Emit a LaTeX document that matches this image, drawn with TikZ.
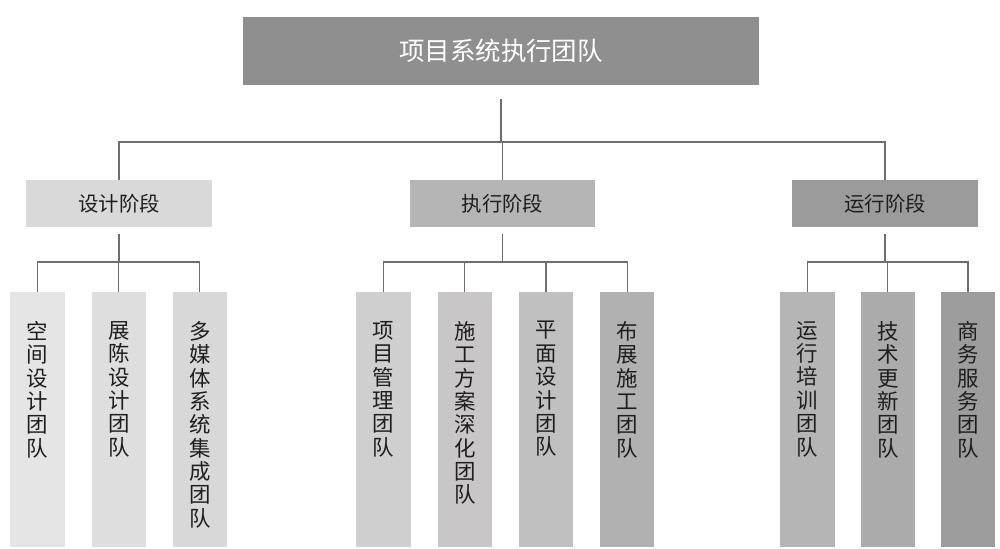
\documentclass[tikz,border=0pt]{standalone}
\usepackage{fontspec}
\setmainfont{Noto Sans CJK SC}
\usepackage{tikz}
\usetikzlibrary{positioning}

\definecolor{headgray}{HTML}{8F8F8F}
\definecolor{linegray}{HTML}{6E6E6E}
\definecolor{txtgray}{HTML}{1E1E1E}
\definecolor{phaseA}{HTML}{D9D9D9}
\definecolor{phaseB}{HTML}{B5B5B5}
\definecolor{phaseC}{HTML}{9B9B9B}
\definecolor{teamAa}{HTML}{E5E5E5}
\definecolor{teamAb}{HTML}{DEDEDE}
\definecolor{teamAc}{HTML}{D8D8D8}
\definecolor{teamBa}{HTML}{D0CFCF}
\definecolor{teamBb}{HTML}{C8C6C6}
\definecolor{teamBc}{HTML}{C0C0C0}
\definecolor{teamBd}{HTML}{B1B1B1}
\definecolor{teamCa}{HTML}{B6B5B6}
\definecolor{teamCb}{HTML}{ACABAC}
\definecolor{teamCc}{HTML}{9E9D9D}

\tikzset{
  head/.style={fill=headgray, text=white, minimum width=10.32cm, minimum height=1.36cm, inner sep=0pt, font=\fontsize{14.5}{16}\selectfont},
  phase/.style={minimum width=3.72cm, minimum height=0.94cm, inner sep=0pt, text=txtgray, font=\fontsize{11.6}{13}\selectfont},
  team/.style={inner sep=0pt, text=txtgray, font=\fontsize{12.2}{13.3}\selectfont},
  link/.style={draw=linegray, line width=0.6pt}
}
\newcommand{\teamtext}[1]{\parbox[c][5.1cm][t]{1.09cm}{\centering\vspace*{0.58cm}#1}}

\begin{document}
\begin{tikzpicture}[x=0.02cm, y=-0.02cm]
      \useasboundingbox (0,0) rectangle (1000,548);
      \node[head] (top) at (501,51) {项目系统执行团队};
      \node[phase, fill=phaseA] (design) at (119,203.5) {设计阶段};
      \node[phase, fill=phaseB] (build) at (502.5,203.5) {执行阶段};
      \node[phase, fill=phaseC] (run) at (885,203.5) {运行阶段};

      \node[team, fill=teamAa, anchor=north west] (space) at (10,292) {\teamtext{空\\间\\设\\计\\团\\队}};
      \node[team, fill=teamAb, right=0.52cm of space] (show) {\teamtext{展\\陈\\设\\计\\团\\队}};
      \node[team, fill=teamAc, right=0.52cm of show] (media) {\teamtext{多\\媒\\体\\系\\统\\集\\成\\团\\队}};

      \node[team, fill=teamBa, anchor=north west] (manage) at (356,292) {\teamtext{项\\目\\管\\理\\团\\队}};
      \node[team, fill=teamBb, right=0.52cm of manage] (plan) {\teamtext{施\\工\\方\\案\\深\\化\\团\\队}};
      \node[team, fill=teamBc, right=0.52cm of plan] (graphic) {\teamtext{平\\面\\设\\计\\团\\队}};
      \node[team, fill=teamBd, right=0.52cm of graphic] (install) {\teamtext{布\\展\\施\\工\\团\\队}};

      \node[team, fill=teamCa, anchor=north west] (train) at (780,292) {\teamtext{运\\行\\培\\训\\团\\队}};
      \node[team, fill=teamCb, right=0.5cm of train] (tech) {\teamtext{技\\术\\更\\新\\团\\队}};
      \node[team, fill=teamCc, right=0.5cm of tech] (biz) {\teamtext{商\\务\\服\\务\\团\\队}};

      \coordinate (bus) at (502,142);
      \draw[link] ([yshift=-0.28cm]top.south) -- (top.south |- bus);
      \draw[link] (design.north) |- (bus) -| (run.north);
      \draw[link] (bus -| build.north) -- (build.north);

      \coordinate (rowA) at (119,262);
      \draw[link] ([yshift=-0.14cm]design.south) -- (design.south |- rowA);
      \draw[link] (space.north) |- (rowA) -| (media.north);
      \draw[link] (show.north) -- (show.north |- rowA);

      \coordinate (rowB) at (504,262);
      \draw[link] ([yshift=-0.14cm]build.south) -- (build.south |- rowB);
      \draw[link] (manage.north) |- (rowB) -| (install.north);
      \draw[link] (plan.north) -- (plan.north |- rowB);
      \draw[link] (graphic.north) -- (graphic.north |- rowB);

      \coordinate (rowC) at (885,262);
      \draw[link] ([yshift=-0.14cm]run.south) -- (run.south |- rowC);
      \draw[link] (train.north) |- (rowC) -| (biz.north);
      \draw[link] (tech.north) -- (tech.north |- rowC);
    \end{tikzpicture}
\end{document}
